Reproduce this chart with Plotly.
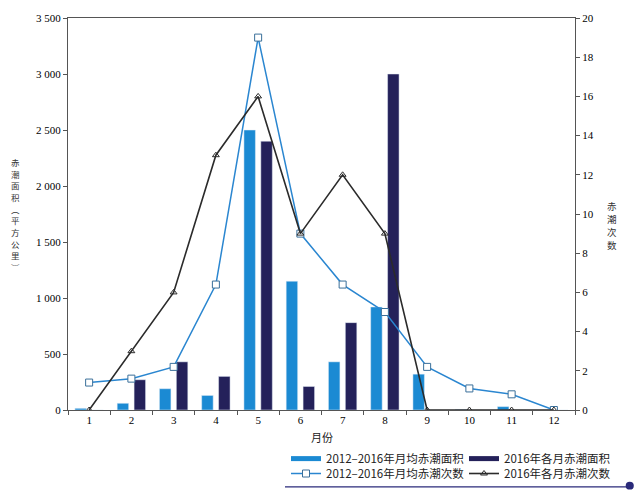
import plotly.graph_objects as go

months = [1, 2, 3, 4, 5, 6, 7, 8, 9, 10, 11, 12]
month_labels = ["1", "2", "3", "4", "5", "6", "7", "8", "9", "10", "11", "12"]

avg_area = [15, 60, 190, 130, 2500, 1150, 430, 920, 320, 5, 30, 0]
area_2016 = [0, 270, 430, 300, 2400, 210, 780, 3000, 0, 0, 0, 0]
avg_count = [1.4, 1.6, 2.2, 6.4, 19, 9, 6.4, 5, 2.2, 1.1, 0.8, 0]
count_2016 = [0, 3, 6, 13, 16, 9, 12, 9, 0, 0, 0, 0]

names = ["2012–2016年月均赤潮面积", "2016年各月赤潮面积",
         "2012–2016年月均赤潮次数", "2016年各月赤潮次数"]
left_title = "赤潮面积︵平方公里︶"
right_title = "赤潮次数"
x_title = "月份"

c_light = "#1b8ad3"
c_dark = "#24215a"
c_blue_line = "#2a86d0"
c_black_line = "#2b2b2b"

fig = go.Figure()
fig.add_trace(go.Bar(x=months, y=avg_area, marker_color=c_light, name=names[0],
                     showlegend=False, yaxis="y"))
fig.add_trace(go.Bar(x=months, y=area_2016, marker_color=c_dark, name=names[1],
                     showlegend=False, yaxis="y"))
# legend proxies for bars (thick line symbols), row 1
fig.add_trace(go.Scatter(x=[None], y=[None], mode="lines", name=names[0],
                         line=dict(color=c_light, width=5), legend="legend"))
fig.add_trace(go.Scatter(x=[None], y=[None], mode="lines", name=names[1],
                         line=dict(color=c_dark, width=5), legend="legend"))
# line series, row 2
fig.add_trace(go.Scatter(x=months, y=avg_count, mode="lines+markers", name=names[2],
                         yaxis="y2", legend="legend2",
                         line=dict(color=c_blue_line, width=1.5),
                         marker=dict(symbol="square", size=7, color="white",
                                     line=dict(color="#3a6f9a", width=1))))
fig.add_trace(go.Scatter(x=months, y=count_2016, mode="lines+markers", name=names[3],
                         yaxis="y2", legend="legend2",
                         line=dict(color=c_black_line, width=1.6),
                         marker=dict(symbol="triangle-up-open", size=6,
                                     color=c_black_line, line=dict(width=1))))

serif = "Liberation Serif"
cjk = "Noto Sans CJK SC"
axis_col = "#555555"
tickfont = dict(family=serif, size=11, color="#000000")

legend_common = dict(orientation="h", xanchor="left", yanchor="top",
                     entrywidth=133, entrywidthmode="pixels", tracegroupgap=0,
                     itemwidth=30, bgcolor="rgba(0,0,0,0)",
                     font=dict(family=cjk, size=11.5, color="#222222"))

fig.update_layout(
    width=634, height=490,
    margin=dict(l=68, r=59, t=18, b=80, autoexpand=False),
    paper_bgcolor="white", plot_bgcolor="white",
    separators=". ",
    barmode="group", bargap=0.2, bargroupgap=0.32,
    font=dict(family=serif, size=11, color="#111111"),
    xaxis=dict(range=[0.5, 12.5], tickvals=months, ticktext=month_labels,
               ticks="", showline=True, linecolor=axis_col, linewidth=1.2,
               mirror=True, showgrid=False, zeroline=False, tickfont=tickfont,
               minor=dict(tickvals=[m + 0.5 for m in [0] + months], ticks="outside",
                          ticklen=4, tickcolor=axis_col)),
    yaxis=dict(range=[0, 3500], dtick=500, tickformat=",d", ticks="outside",
               ticklen=4, tickcolor=axis_col, showline=True, linecolor=axis_col,
               linewidth=1.2, showgrid=False, zeroline=False, tickfont=tickfont),
    yaxis2=dict(range=[0, 20], dtick=2, overlaying="y", side="right", ticks="outside",
                ticklen=4, tickcolor=axis_col, showline=True, linecolor=axis_col,
                linewidth=1.2, showgrid=False, zeroline=False, tickfont=tickfont),
    legend=dict(x=0.43, y=-0.087, **legend_common),
    legend2=dict(x=0.43, y=-0.125, **legend_common),
)

fig.add_annotation(text=x_title, xref="paper", yref="paper", x=0.5, y=-0.068,
                   showarrow=False, yanchor="middle",
                   font=dict(family=cjk, size=11, color="#222222"))

# vertical (upright, stacked) axis titles
step = 11.7 / 392
for i, ch in enumerate(left_title):
    fig.add_annotation(text=ch, xref="paper", yref="paper", x=-0.104,
                       y=0.633 - i * step, showarrow=False, xanchor="center",
                       yanchor="middle", font=dict(family=cjk, size=8.5, color="#333333"))
step_r = 13 / 392
for i, ch in enumerate(right_title):
    fig.add_annotation(text=ch, xref="paper", yref="paper", x=1.073,
                       y=0.52 - i * step_r, showarrow=False, xanchor="center",
                       yanchor="middle", font=dict(family=cjk, size=9.5, color="#333333"))

# decorative underline below legend
fig.add_shape(type="line", xref="paper", yref="paper", x0=0.428, x1=1.108,
              y0=-0.196, y1=-0.196, line=dict(color="#2a2a7a", width=1.2))
fig.add_shape(type="circle", xref="paper", yref="paper", x0=1.100, x1=1.116,
              y0=-0.203, y1=-0.183, fillcolor="#2a2a7a", line=dict(width=0))

fig.write_html("out.html")
